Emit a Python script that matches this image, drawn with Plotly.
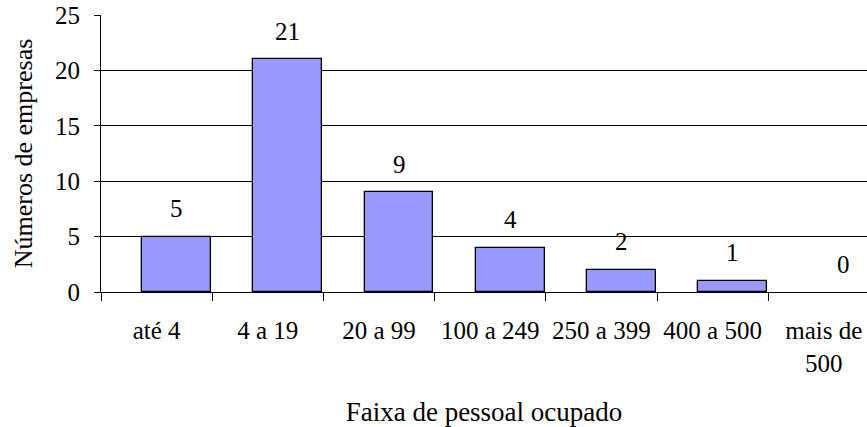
import plotly.graph_objects as go

categories = ["até 4", "4 a 19", "20 a 99", "100 a 249", "250 a 399", "400 a 500", "mais de 500"]
tick_labels = ["até 4", "4 a 19", "20 a 99", "100 a 249", "250 a 399", "400 a 500", "mais de<br>500"]
values = [5, 21, 9, 4, 2, 1, 0]
y_ticks = [0, 5, 10, 15, 20, 25]

FONT = "Liberation Serif, Times New Roman, serif"
FS = 25
BAR_W = 0.62
BAR_OFF = -0.13
CAT_PX = 111.2

W, H = 867, 427
ML, MT, MB = 101, 15, 135

fig = go.Figure()
fig.add_trace(go.Bar(
    x=categories, y=values,
    width=BAR_W, offset=BAR_OFF,
    marker=dict(color="#9999FF",
                line=dict(color="black", width=[1.3 if v else 0 for v in values])),
    showlegend=False, hoverinfo="skip",
))

for c, v in zip(categories, values):
    fig.add_annotation(
        x=c, y=v, xref="x", yref="y", text=str(v), showarrow=False,
        xshift=(BAR_OFF + BAR_W / 2) * CAT_PX, yshift=28, yanchor="middle",
        font=dict(family=FONT, size=FS, color="black"),
    )

fig.update_layout(
    width=W, height=H,
    margin=dict(l=ML, r=0, t=MT, b=MB, autoexpand=False),
    paper_bgcolor="white", plot_bgcolor="white",
    font=dict(family=FONT, size=FS, color="black"),
    bargap=0,
)
fig.update_xaxes(
    type="category", categoryorder="array", categoryarray=categories,
    tickvals=categories, ticktext=tick_labels,
    range=[-0.5, -0.5 + (W - ML) / CAT_PX],
    tickson="boundaries", ticks="outside", ticklen=8, tickcolor="black", tickwidth=1,
    showline=True, linecolor="black", linewidth=1,
    showgrid=False, ticklabelstandoff=16,
    tickfont=dict(family=FONT, size=FS, color="black"),
    title=dict(text="Faixa de pessoal ocupado", font=dict(family=FONT, size=27, color="black"), standoff=39),
)
fig.update_yaxes(
    range=[0, 25], tickvals=y_ticks,
    ticks="outside", ticklen=6, tickcolor="black", tickwidth=1,
    showline=True, linecolor="black", linewidth=1,
    showgrid=True, gridcolor="black", gridwidth=1, zeroline=False,
    ticklabelstandoff=9, ticklabeloverflow="allow",
    tickfont=dict(family=FONT, size=FS, color="black"),
    title=dict(text="Números de empresas", font=dict(family=FONT, size=26, color="black"), standoff=14),
)

fig.write_html("out.html", config={"displayModeBar": False},
               post_script="document.body.style.margin='0';")
